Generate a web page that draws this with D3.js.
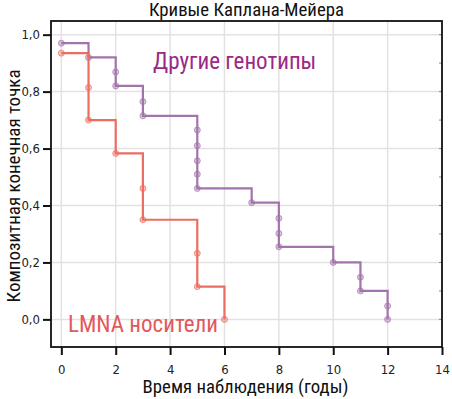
<!DOCTYPE html>
<html>
<head>
<meta charset="utf-8">
<script src="https://cdn.jsdelivr.net/npm/d3@7"></script>
<style>
  body { margin: 0; background: #fff; }
  text { font-family: "Liberation Sans Narrow", "Roboto Condensed", "DejaVu Sans Condensed", sans-serif; }
</style>
</head>
<body>
<div id="container"></div>
<script>
// Chart data
var xTicks = [0, 2, 4, 6, 8, 10, 12, 14],
yTicks = [0, 0.2, 0.4, 0.6, 0.8, 1.0],
yMinorTicks = [0, 0.1, 0.2, 0.3, 0.4, 0.5, 0.6, 0.7, 0.8, 0.9, 1.0];

// Other genotypes: steps and marks
var otherTimes = [0, 1, 2, 3, 5, 7, 8, 10, 11, 12],
otherSurv = [0.97, 0.92, 0.82, 0.715, 0.46, 0.41, 0.255, 0.2, 0.1, 0.0],
otherMarkT = [0, 1, 2, 2, 3, 3, 5, 5, 5, 5, 5, 7, 8, 8, 8, 10, 11, 11, 12, 12],
otherMarkS = [0.97, 0.92, 0.869, 0.82, 0.765, 0.715, 0.665, 0.61, 0.557, 0.51, 0.46, 0.41, 0.355, 0.302, 0.255, 0.2, 0.148, 0.1, 0.047, 0.0];

// LMNA carriers: steps and marks
var lmnaTimes = [0, 1, 2, 3, 5, 6],
lmnaSurv = [0.935, 0.70, 0.583, 0.35, 0.115, 0.0],
lmnaMarkT = [0, 1, 1, 2, 3, 3, 5, 5, 6],
lmnaMarkS = [0.935, 0.814, 0.70, 0.583, 0.46, 0.35, 0.232, 0.115, 0.0];

var W = 452, H = 399,
margin = {top: 21, right: 10, bottom: 52, left: 51},
col = {other: "#a274ab", otherText: "#9a2a86", lmna: "#eb6e60", lmnaText: "#e2585c", grid: "#e2e2e2"};

var w = W - margin.left - margin.right,
h = H - margin.top - margin.bottom;

var svg = d3.select("#container")
    .append("svg")
    .attr("width", W)
    .attr("height", H);

var g = svg.append("g")
    .attr("transform", "translate(" + margin.left + "," + margin.top + ")");

var x = d3.scaleLinear().domain([-0.38, 14]).range([0, w]);
var y = d3.scaleLinear().domain([-0.097, 1.048]).range([h, 0]);

// grid
g.append("g").selectAll("line")
    .data(xTicks.slice(0, -1))
    .enter().append("line")
        .attr("x1", d => x(d)).attr("x2", d => x(d))
        .attr("y1", 0).attr("y2", h)
        .attr("stroke", col.grid).attr("stroke-width", 1.5);
g.append("g").selectAll("line")
    .data(yTicks)
    .enter().append("line")
        .attr("x1", 0).attr("x2", w)
        .attr("y1", d => y(d)).attr("y2", d => y(d))
        .attr("stroke", col.grid).attr("stroke-width", 1.5);

// right side small inner ticks
g.append("g").selectAll("line")
    .data(yMinorTicks)
    .enter().append("line")
        .attr("x1", w - 3).attr("x2", w)
        .attr("y1", d => y(d)).attr("y2", d => y(d))
        .attr("stroke", "#888").attr("stroke-width", 1);

// curves
var line = d3.line()
    .x(d => x(d[0]))
    .y(d => y(d[1]))
    .curve(d3.curveStepAfter);

function drawCurve(times, surv, markT, markS, c) {
    g.append("path")
        .datum(d3.zip(times, surv))
        .attr("fill", "none")
        .attr("stroke", c)
        .attr("stroke-width", 2.2)
        .attr("d", line);
    g.append("g").selectAll("circle")
        .data(d3.zip(markT, markS))
        .enter().append("circle")
            .attr("cx", d => x(d[0]))
            .attr("cy", d => y(d[1]))
            .attr("r", 3)
            .attr("fill", c)
            .attr("fill-opacity", 0.4)
            .attr("stroke", c)
            .attr("stroke-opacity", 0.7)
            .attr("stroke-width", 1);
}
drawCurve(otherTimes, otherSurv, otherMarkT, otherMarkS, col.other);
drawCurve(lmnaTimes, lmnaSurv, lmnaMarkT, lmnaMarkS, col.lmna);

// frame
g.append("rect")
    .attr("width", w).attr("height", h)
    .attr("fill", "none")
    .attr("stroke", "#111")
    .attr("stroke-width", 1.8);

// axes
var xAxis = g.append("g")
    .attr("transform", "translate(0," + h + ")")
    .call(d3.axisBottom(x).tickValues(xTicks).tickSize(8).tickSizeOuter(0).tickFormat(d3.format("d")));
var yAxis = g.append("g")
    .call(d3.axisLeft(y).tickValues(yTicks).tickSize(8).tickSizeOuter(0)
        .tickFormat(d => d3.format(".1f")(d).replace(".", ",")));
[xAxis, yAxis].forEach(function(a) {
    a.select(".domain").remove();
    a.selectAll(".tick line").attr("stroke", "#111").attr("stroke-width", 2);
    a.selectAll(".tick text")
        .attr("fill", "#222")
        .style("font-size", "13px")
        .style("font-family", "'Liberation Sans Narrow', 'DejaVu Sans Condensed', sans-serif");
});
xAxis.selectAll(".tick text").attr("dy", "1.2em");
yAxis.selectAll(".tick text").attr("x", -11);

// labels
svg.append("text")
    .attr("x", margin.left + w / 2)
    .attr("y", 16)
    .attr("text-anchor", "middle")
    .style("font-size", "18.8px")
    .attr("fill", "#111")
    .text("Кривые Каплана-Мейера");

svg.append("text")
    .attr("x", margin.left + w / 2 - 1)
    .attr("y", 393)
    .attr("text-anchor", "middle")
    .style("font-size", "18.8px")
    .attr("fill", "#111")
    .text("Время наблюдения (годы)");

svg.append("text")
    .attr("transform", "rotate(-90)")
    .attr("x", -186)
    .attr("y", 20)
    .attr("text-anchor", "middle")
    .style("font-size", "19px")
    .attr("fill", "#111")
    .text("Композитная конечная точка");

g.append("text")
    .attr("x", 153 - margin.left)
    .attr("y", 68.5 - margin.top)
    .style("font-size", "23px")
    .attr("fill", col.otherText)
    .text("Другие генотипы");

g.append("text")
    .attr("x", 68 - margin.left)
    .attr("y", 332 - margin.top)
    .style("font-size", "23px")
    .attr("fill", col.lmnaText)
    .text("LMNA носители");
</script>
</body>
</html>
